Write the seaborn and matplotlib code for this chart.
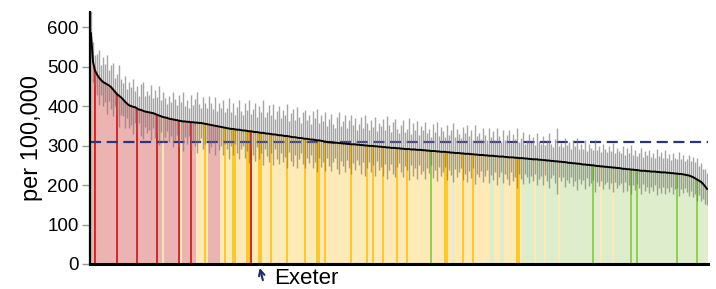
import numpy as np
import pandas as pd
import seaborn as sns
import matplotlib.pyplot as plt

# Sorted rates per 100,000 (one bar per area)
rates = [
    584, 512, 490, 480, 472, 466, 461, 458, 455, 452, 448, 442, 436, 430, 426, 422, 417, 411, 406, 402,
    400, 398, 397, 394, 391, 390, 388, 386, 385, 384, 383, 382, 380, 378, 376, 374, 372, 371, 370, 368,
    367, 366, 365, 364, 363, 362, 361, 361, 360, 360, 359, 359, 358, 358, 357, 357, 356, 355, 354, 353,
    352, 351, 350, 349, 348, 347, 346, 345, 344, 343, 342, 342, 341, 340, 340, 339, 338, 338, 337, 336,
    336, 335, 334, 334, 333, 332, 332, 331, 330, 330, 329, 328, 328, 327, 326, 326, 325, 324, 324, 323,
    322, 321, 321, 320, 319, 319, 318, 317, 317, 316, 315, 315, 314, 313, 313, 312, 311, 310, 309, 308,
    308, 307, 307, 307, 306, 306, 305, 305, 304, 304, 303, 303, 303, 302, 302, 301, 301, 300, 300, 299,
    299, 299, 298, 298, 297, 297, 296, 296, 295, 295, 294, 294, 294, 293, 293, 292, 292, 291, 291, 291,
    290, 290, 290, 289, 289, 289, 288, 288, 287, 287, 286, 286, 286, 285, 285, 284, 284, 284, 283, 283,
    282, 282, 281, 281, 281, 280, 280, 279, 279, 279, 278, 278, 277, 277, 276, 276, 276, 275, 275, 274,
    274, 274, 273, 273, 272, 272, 272, 271, 271, 270, 270, 270, 269, 269, 268, 268, 268, 267, 267, 266,
    266, 265, 265, 265, 264, 264, 263, 263, 262, 262, 261, 261, 260, 260, 259, 259, 258, 258, 257, 256,
    256, 255, 255, 254, 254, 253, 252, 252, 251, 251, 250, 250, 249, 248, 248, 247, 247, 246, 246, 245,
    245, 244, 244, 243, 243, 242, 241, 241, 240, 240, 239, 239, 238, 238, 237, 236, 236, 236, 235, 235,
    234, 234, 234, 233, 233, 232, 232, 232, 231, 231, 230, 230, 229, 229, 228, 228, 227, 226, 225, 224,
    222, 220, 217, 214, 211, 208, 203, 197, 190,
]

# Half-width of the confidence interval for each bar
ci_half = [
    60, 50, 40, 52, 70, 38, 62, 48, 74, 40, 55, 68, 36, 52, 78, 46, 42, 66, 36, 58,
    48, 70, 40, 56, 34, 66, 72, 40, 54, 44, 70, 38, 60, 46, 74, 40, 64, 50, 34, 58,
    44, 70, 52, 38, 66, 48, 74, 40, 56, 36, 70, 44, 60, 78, 48, 38, 66, 52, 40, 72,
    56, 42, 74, 38, 60, 48, 70, 40, 52, 78, 44, 66, 36, 58, 74, 48, 40, 70, 52, 80,
    44, 58, 74, 38, 66, 52, 82, 40, 56, 72, 48, 78, 38, 60, 74, 44, 66, 52, 80, 40,
    60, 72, 44, 78, 52, 38, 66, 74, 48, 60, 40, 72, 56, 80, 44, 66, 52, 74, 40, 60,
    72, 48, 38, 66, 78, 44, 56, 72, 40, 60, 74, 48, 66, 38, 52, 72, 44, 78, 56, 40,
    66, 48, 74, 38, 60, 52, 72, 44, 80, 56, 40, 66, 74, 48, 38, 60, 72, 44, 52, 78,
    40, 66, 48, 74, 38, 60, 52, 72, 44, 56, 36, 68, 48, 74, 40, 62, 52, 38, 70, 44,
    56, 74, 40, 62, 48, 38, 68, 52, 72, 44, 60, 36, 74, 48, 56, 40, 68, 52, 38, 70,
    48, 62, 40, 72, 52, 38, 66, 44, 56, 70, 36, 60, 48, 76, 40, 52, 66, 38, 48, 62,
    44, 56, 36, 66, 48, 40, 62, 38, 52, 70, 44, 36, 56, 84, 40, 48, 38, 62, 44, 52,
    36, 58, 44, 66, 38, 50, 40, 62, 34, 54, 44, 38, 66, 40, 50, 36, 58, 44, 38, 54,
    40, 62, 36, 50, 44, 38, 58, 34, 54, 40, 62, 38, 50, 36, 44, 58, 34, 50, 40, 54,
    38, 48, 34, 58, 40, 52, 36, 56, 38, 48, 34, 52, 40, 36, 56, 38, 48, 34, 42, 52,
    38, 50, 40, 54, 36, 48, 38, 44, 40,
]

# r/y/g = higher / similar / lower than England; capitals = highlighted areas
groups = list(
    "rrRrrrrrrrrrrRrrrrrr"
    "rrrRrrrrrrrrrRrryrrr"
    "rrrrRyrrrrRrryyyyYyr"
    "rrrrryyYyyyYYyyyyyYY"
    "RyyyYYyyyyYyyyyyyyYy"
    "yyyyyyyYyyyyyYYyyYyy"
    "yyyyyyyyyyYyyyyyyyYy"
    "yYyyyyYyyyyyyYyyyyYy"
    "yyyyyyyyyyGyyyyyyYYy"
    "ygyyyyYyyyyYyyyyyyyy"
    "ggyyyggyyyyyyYYygggg"
    "ggyggggyggggggyggggg"
    "gggggggggggGgggygggg"
    "gyggggggggGggGgggggg"
    "gggggggggggggGgggggg"
    "gggGggggg"
)

england = 310
highlight_idx = 84
highlight_name = "Exeter"

palette = {
    "r": "#ebb4b3", "R": "#d42b2b",
    "y": "#feeab6", "Y": "#fec82c",
    "g": "#deeecd", "G": "#92d14f",
}

df = pd.DataFrame({"area": np.arange(len(rates)), "rate": rates,
                   "ci": ci_half, "group": groups})
df["lo"] = df["rate"] - df["ci"]
df["hi"] = df["rate"] + df["ci"]
bar_colors = {a: palette[g] for a, g in zip(df["area"], df["group"])}

fig = plt.figure(figsize=(7.16, 2.89), dpi=100)
ax = fig.add_axes([90 / 716, 25 / 289, 618 / 716, 252 / 289])

sns.barplot(data=df, x="area", y="rate", hue="area", palette=bar_colors,
            legend=False, width=1.0, linewidth=0, saturation=1, ax=ax, zorder=1)

ax.axhline(england, color="#2e3575", lw=1.6, ls=(0, (5, 2.5)), zorder=2)
ax.vlines(df["area"], df["lo"], df["hi"], color="#757575", alpha=0.65, lw=1.0, zorder=3)
sns.lineplot(data=df, x="area", y="rate", color="black", lw=1.4, ax=ax, zorder=4)

ax.set_xlim(-0.5, len(rates) - 0.5)
ax.set_ylim(0, 638)
ax.set_yticks(range(0, 601, 100))
ax.tick_params(axis="y", labelsize=13.5, length=6, width=1, color="#999999", pad=2)
ax.set_xticks([])
ax.set_xlabel("")
ax.set_ylabel("per 100,000", fontsize=17, labelpad=3)
for s in ["top", "right"]:
    ax.spines[s].set_visible(False)
ax.spines["left"].set_linewidth(1.6)
ax.spines["bottom"].set_linewidth(2.2)

ax.annotate("", xy=(highlight_idx, -0.005), xycoords=("data", "axes fraction"),
            xytext=(highlight_idx + 2.3, -0.075), textcoords=("data", "axes fraction"),
            arrowprops=dict(arrowstyle="->", color="#1f2a6b", lw=1.5), annotation_clip=False)
ax.text(highlight_idx + 7.5, -0.057, highlight_name, transform=ax.get_xaxis_transform(),
        fontsize=16, va="center", ha="left", clip_on=False)

for t in ax.get_yticklabels() + [ax.yaxis.label]:
    t.set_family(["Liberation Sans", "DejaVu Sans"])
ax.texts[-1].set_family(["Liberation Sans", "DejaVu Sans"])

fig.savefig("out.png", dpi=100)
